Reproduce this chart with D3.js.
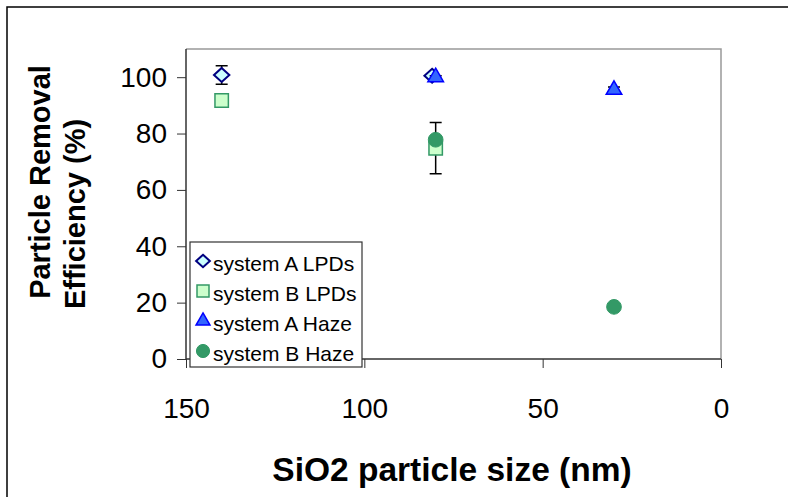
<!DOCTYPE html>
<html><head><meta charset="utf-8">
<script src="https://cdn.jsdelivr.net/npm/d3@7"></script>
<style>body{margin:0;background:#fff}svg{display:block}text{font-family:"Liberation Sans",Arial,sans-serif}</style>
</head><body><svg id="c" width="788" height="497"></svg>
<script>
const seriesNames = ["system A LPDs","system B LPDs","system A Haze","system B Haze"];
const aLPDsX = [140, 81];   const aLPDsY = [100.8, 100.5]; const aLPDsErr = [3.3, 0];
const bLPDsX = [140, 80];   const bLPDsY = [91.7, 74.8];   const bLPDsErr = [0, 9.1];
const aHazeX = [80, 30];    const aHazeY = [100, 95.5];    const aHazeErr = [0.5, 1];
const bHazeX = [80, 30];    const bHazeY = [77.8, 18.5];   const bHazeErr = [0.5, 1];
const xTicks = [150, 100, 50, 0];
const yTicks = [0, 20, 40, 60, 80, 100];

const svg = d3.select("#c");
const L = 186, R = 721, T = 49, B = 359;
const x = d3.scaleLinear().domain([150, 0]).range([L, R]);
const y = d3.scaleLinear().domain([0, 110]).range([B, T]);

svg.append("rect").attr("x",7).attr("y",7).attr("width",800).attr("height",520)
  .attr("fill","none").attr("stroke","#000").attr("stroke-width",1.5);

svg.append("path").attr("d",`M${L},${T}H${R}V${B}`).attr("fill","none").attr("stroke","#999").attr("stroke-width",1.5);

const yAx = svg.append("g").attr("transform",`translate(${L},0)`)
  .call(d3.axisLeft(y).tickValues(yTicks).tickSize(9).tickPadding(10));
const xAx = svg.append("g").attr("transform",`translate(0,${B})`)
  .call(d3.axisBottom(x).tickValues(xTicks).tickSize(9).tickPadding(30));
[yAx,xAx].forEach(g=>{
  g.select(".domain").attr("stroke","#333").attr("stroke-width",1.5);
  g.selectAll(".tick line").attr("stroke","#333");
  g.selectAll("text").attr("font-size",28).attr("fill","#000").attr("font-family","Liberation Sans, Arial, sans-serif");
});
yAx.select(".domain").attr("d",`M0,${B}V${T}`);
xAx.select(".domain").attr("d",`M${L},0H${R}`);

svg.append("text").attr("x",452).attr("y",481).attr("text-anchor","middle")
  .attr("font-size",33.5).attr("font-weight","bold").text("SiO2 particle size (nm)");
const yt = svg.append("text").attr("transform","rotate(-90)").attr("font-size",29).attr("font-weight","bold").attr("text-anchor","middle");
yt.append("tspan").attr("x",-182).attr("y",50).text("Particle Removal");
yt.append("tspan").attr("x",-214).attr("y",85).text("Efficiency (%)");

const diamond = { draw(ctx, size){ const r=Math.sqrt(size/2); ctx.moveTo(0,-r); ctx.lineTo(r*1.1,0); ctx.lineTo(0,r); ctx.lineTo(-r*1.1,0); ctx.closePath(); } };
const styles = [
  {type:diamond, fill:"#ccffff", stroke:"#000080", size:98, sw:2},
  {type:d3.symbolSquare, fill:"#ccffcc", stroke:"#339966", size:180, sw:1.5},
  {type:d3.symbolTriangle, fill:"#3366ff", stroke:"#0000ff", size:105, sw:1.5},
  {type:d3.symbolCircle, fill:"#339966", stroke:"#339966", size:170, sw:1}
];
const allX=[aLPDsX,bLPDsX,aHazeX,bHazeX], allY=[aLPDsY,bLPDsY,aHazeY,bHazeY], allE=[aLPDsErr,bLPDsErr,aHazeErr,bHazeErr];

const drawErr = (g, xs, ys, es) => {
  xs.forEach((xv,i)=>{
    if(!es[i]) return;
    const cx=x(xv), y1=y(ys[i]+es[i]), y2=y(ys[i]-es[i]);
    g.append("path").attr("d",`M${cx},${y1}V${y2}M${cx-6},${y1}H${cx+6}M${cx-6},${y2}H${cx+6}`)
      .attr("stroke","#000").attr("stroke-width",1.5).attr("fill","none");
  });
};
const drawMarks = (g, s, xs, ys) => {
  xs.forEach((xv,i)=>{
    g.append("path").attr("d",d3.symbol().type(s.type).size(s.size)())
      .attr("transform",`translate(${x(xv)},${y(ys[i])})`)
      .attr("fill",s.fill).attr("stroke",s.stroke).attr("stroke-width",s.sw);
  });
};
const pg = svg.append("g");
[0,1,2,3].forEach(k=>{ drawErr(pg, allX[k], allY[k], allE[k]); drawMarks(pg, styles[k], allX[k], allY[k]); });

const lg = svg.append("g").attr("transform","translate(190,242)");
lg.append("rect").attr("width",172).attr("height",125).attr("fill","#fff").attr("stroke","#333").attr("stroke-width",1.2);
seriesNames.forEach((n,i)=>{
  const s=styles[i], cy=19+i*30;
  lg.append("path").attr("d",d3.symbol().type(s.type).size(s.size*0.8)())
    .attr("transform",`translate(13,${cy})`)
    .attr("fill",s.fill).attr("stroke",s.stroke).attr("stroke-width",s.sw);
  lg.append("text").attr("x",23).attr("y",cy+10).attr("font-size",21).text(n);
});
</script></body></html>
